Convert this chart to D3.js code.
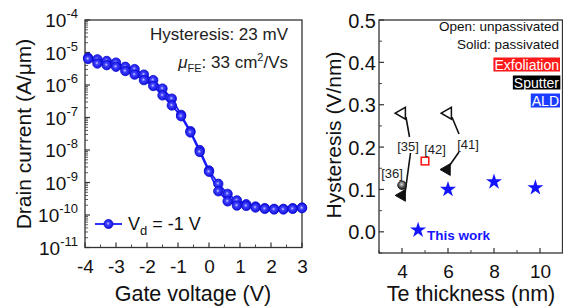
<!DOCTYPE html>
<html>
<head>
<meta charset="utf-8">
<script src="https://cdn.jsdelivr.net/npm/d3@7"></script>
<style>
  body { margin: 0; background: #fff; }
  svg { font-family: "Liberation Sans", Arial, sans-serif; }
</style>
</head>
<body>
<script>
// ---- left panel data: transfer curve (two sweeps) ----
var gateV = [-3.9, -3.6, -3.3, -3.0, -2.7, -2.4, -2.1, -1.8, -1.5, -1.2, -0.9, -0.6,
             -0.3, 0.0, 0.3, 0.6, 0.9, 1.2, 1.5, 1.8, 2.1, 2.4, 2.7, 3.0];
var logIdFwd = [-5.16, -5.21, -5.26, -5.31, -5.44, -5.51, -5.68, -5.85, -6.11, -6.42, -6.92, -7.42,
                -8.0, -8.63, -9.04, -9.35, -9.55, -9.67, -9.74, -9.79, -9.81, -9.81, -9.79, -9.77];
var logIdRev = [-5.2, -5.34, -5.39, -5.44, -5.57, -5.68, -5.85, -6.03, -6.32, -6.63, -6.96, -7.46,
                -8.06, -8.67, -9.27, -9.58, -9.71, -9.72, -9.77, -9.81, -9.83, -9.83, -9.81, -9.79];
var yTickExp = [-4, -5, -6, -7, -8, -9, -10, -11];
var xTicksLeft = [-4, -3, -2, -1, 0, 1, 2, 3];

// ---- right panel data: hysteresis vs Te thickness ----
var exfoliation = [{t: 5.0, h: 0.167}];
var sputterOpen = [{t: 4.0, h: 0.28}, {t: 6.0, h: 0.28}];
var sputterSolid = [{t: 4.0, h: 0.086}, {t: 5.95, h: 0.147}];
var sputterCircle = [{t: 4.0, h: 0.11}];
var aldStars = [{t: 4.7, h: 0.004}, {t: 6.0, h: 0.10}, {t: 8.0, h: 0.118}, {t: 9.8, h: 0.104}];
var xTicksRight = [4, 6, 8, 10];
var yTicksRight = [0.0, 0.1, 0.2, 0.3, 0.4, 0.5];

var W = 563, H = 307;
var svg = d3.select("body").append("svg").attr("width", W).attr("height", H);
var defs = svg.append("defs");

var g1 = defs.append("radialGradient").attr("id", "blueBall").attr("cx", "45%").attr("cy", "45%").attr("r", "60%");
g1.append("stop").attr("offset", "0%").attr("stop-color", "#d0d0ff");
g1.append("stop").attr("offset", "30%").attr("stop-color", "#4040ff");
g1.append("stop").attr("offset", "100%").attr("stop-color", "#0a0ad8");
var g2 = defs.append("radialGradient").attr("id", "greyBall").attr("cx", "45%").attr("cy", "40%").attr("r", "60%");
g2.append("stop").attr("offset", "0%").attr("stop-color", "#dddddd");
g2.append("stop").attr("offset", "50%").attr("stop-color", "#666");
g2.append("stop").attr("offset", "100%").attr("stop-color", "#111");

var blue = "#1a1aff";
var frameCol = "#333";

// =============== LEFT PANEL ===============
var x1 = d3.scaleLinear().domain([-4, 3]).range([85, 302]);
var y1 = d3.scaleLinear().domain([-11, -4]).range([247.5, 20]);

var left = svg.append("g");
left.append("rect").attr("x", 85).attr("y", 20).attr("width", 217).attr("height", 227.5)
  .attr("fill", "none").attr("stroke", frameCol).attr("stroke-width", 1.3);

// y ticks (log) major + minor, inward
yTickExp.forEach(function (e) {
  left.append("line").attr("x1", 85).attr("x2", 90).attr("y1", y1(e)).attr("y2", y1(e))
    .attr("stroke", frameCol).attr("stroke-width", 1.2);
  var t = left.append("text").attr("x", 78).attr("y", y1(e) + 7).attr("text-anchor", "end")
    .attr("font-size", 19).attr("fill", "#111");
  t.append("tspan").text("10");
  t.append("tspan").attr("dy", -9).attr("font-size", 13).text(String(e));
  if (e > -11) {
    for (var m = 2; m < 10; m++) {
      var yy = y1(e - 1 + Math.log10(m));
      left.append("line").attr("x1", 85).attr("x2", 88).attr("y1", yy).attr("y2", yy)
        .attr("stroke", frameCol).attr("stroke-width", 0.8);
    }
  }
});

// x ticks
var xAxis1 = d3.axisBottom(x1).tickValues(xTicksLeft).tickSize(0).tickFormat(d3.format("d"));
var xa1 = left.append("g").attr("transform", "translate(0,247.5)").call(xAxis1);
xa1.select(".domain").remove();
xa1.selectAll("text").attr("font-size", 19).attr("fill", "#111").attr("dy", 0).attr("y", 25)
  .text(function (d) { return String(d); });
d3.range(-4, 3.01, 0.5).forEach(function (v) {
  var major = Math.abs(v - Math.round(v)) < 1e-6;
  left.append("line").attr("x1", x1(v)).attr("x2", x1(v)).attr("y1", 247.5).attr("y2", 247.5 - (major ? 5 : 3))
    .attr("stroke", frameCol).attr("stroke-width", major ? 1.2 : 0.9);
});

// curves
var line1 = d3.line().x(function (d) { return x1(d[0]); }).y(function (d) { return y1(d[1]); });
[logIdFwd, logIdRev].forEach(function (arr) {
  var pts = gateV.map(function (v, i) { return [v, arr[i]]; });
  left.append("path").attr("d", line1(pts)).attr("fill", "none").attr("stroke", blue).attr("stroke-width", 1.8);
});
[logIdFwd, logIdRev].forEach(function (arr) {
  left.selectAll(null).data(gateV.map(function (v, i) { return [v, arr[i]]; })).enter()
    .append("circle").attr("cx", function (d) { return x1(d[0]); }).attr("cy", function (d) { return y1(d[1]); })
    .attr("r", 4.7).attr("fill", "url(#blueBall)").attr("stroke", "#0a0ad0").attr("stroke-width", 0.8);
});

// legend
left.append("line").attr("x1", 95).attr("x2", 122).attr("y1", 224).attr("y2", 224).attr("stroke", blue).attr("stroke-width", 1.8);
left.append("circle").attr("cx", 108.5).attr("cy", 224).attr("r", 4.5).attr("fill", "url(#blueBall)").attr("stroke", "#0a0ad0").attr("stroke-width", 0.8);
var lg = left.append("text").attr("x", 128).attr("y", 230).attr("font-size", 18).attr("fill", "#111");
lg.append("tspan").text("V");
lg.append("tspan").attr("dy", 5).attr("font-size", 13).text("d");
lg.append("tspan").attr("dy", -5).text(" = -1 V");

// annotations
left.append("text").attr("x", 288).attr("y", 40).attr("text-anchor", "end").attr("font-size", 17).attr("fill", "#222")
  .text("Hysteresis: 23 mV");
var mu = left.append("text").attr("x", 288).attr("y", 68).attr("text-anchor", "end").attr("font-size", 17).attr("fill", "#222");
mu.append("tspan").attr("font-style", "italic").text("\u03BC");
mu.append("tspan").attr("dy", 4).attr("font-size", 11).text("FE");
mu.append("tspan").attr("dy", -4).text(": 33 cm");
mu.append("tspan").attr("dy", -7).attr("font-size", 11).text("2");
mu.append("tspan").attr("dy", 7).text("/Vs");

// axis labels
left.append("text").attr("x", 193).attr("y", 301).attr("text-anchor", "middle").attr("font-size", 21.5).attr("fill", "#111")
  .text("Gate voltage (V)");
left.append("text").attr("transform", "translate(31,134) rotate(-90)").attr("text-anchor", "middle")
  .attr("font-size", 21).attr("fill", "#111").text("Drain current (A/\u03BCm)");

// =============== RIGHT PANEL ===============
var x2 = d3.scaleLinear().domain([3, 11]).range([379, 563]);
var y2 = d3.scaleLinear().domain([-0.05, 0.5]).range([253, 20]);
var right = svg.append("g");
right.append("rect").attr("x", 379).attr("y", 20).attr("width", 183.5).attr("height", 233)
  .attr("fill", "none").attr("stroke", frameCol).attr("stroke-width", 1.3);

var yAxis2 = d3.axisLeft(y2).tickValues(yTicksRight).tickSize(0).tickFormat(d3.format(".1f"));
var ya2 = right.append("g").attr("transform", "translate(379,0)").call(yAxis2);
ya2.select(".domain").remove();
ya2.selectAll("text").attr("font-size", 20).attr("fill", "#111").attr("x", -3).attr("dy", "0.35em");
d3.range(-0.05, 0.501, 0.05).forEach(function (v) {
  var major = Math.abs(v * 10 - Math.round(v * 10)) < 1e-6;
  right.append("line").attr("x1", 379).attr("x2", 379 + (major ? 5 : 3)).attr("y1", y2(v)).attr("y2", y2(v))
    .attr("stroke", frameCol).attr("stroke-width", major ? 1.2 : 0.9);
});

var xAxis2 = d3.axisBottom(x2).tickValues(xTicksRight).tickSize(0).tickFormat(d3.format("d"));
var xa2 = right.append("g").attr("transform", "translate(0,253)").call(xAxis2);
xa2.select(".domain").remove();
xa2.selectAll("text").attr("font-size", 19).attr("fill", "#111").attr("dy", 0).attr("y", 25);
d3.range(3, 11.01, 1).forEach(function (v) {
  var major = v % 2 === 0;
  right.append("line").attr("x1", x2(v)).attr("x2", x2(v)).attr("y1", 253).attr("y2", 253 - (major ? 5 : 3))
    .attr("stroke", frameCol).attr("stroke-width", major ? 1.2 : 0.9);
});

// leader lines
function seg(a, b) {
  right.append("line").attr("x1", a[0]).attr("y1", a[1]).attr("x2", b[0]).attr("y2", b[1])
    .attr("stroke", "#111").attr("stroke-width", 1.6);
}
seg([x2(4.0) + 4, y2(0.28) + 4], [409.5, 137]);
seg([410.5, 153], [x2(4.0) + 3, y2(0.086) - 2]);
seg([x2(6.0) + 4, y2(0.28) + 4], [459, 134]);
seg([459, 152], [x2(5.95) + 2, y2(0.147) - 3]);

var tri = d3.symbol().type(d3.symbolTriangle).size(60);
sputterOpen.forEach(function (d) {
  right.append("path").attr("d", tri()).attr("transform", "translate(" + x2(d.t) + "," + y2(d.h) + ") rotate(-90)")
    .attr("fill", "#fff").attr("stroke", "#111").attr("stroke-width", 1.5);
});
sputterSolid.forEach(function (d) {
  right.append("path").attr("d", tri()).attr("transform", "translate(" + x2(d.t) + "," + y2(d.h) + ") rotate(-90)")
    .attr("fill", "#111").attr("stroke", "#111").attr("stroke-width", 1);
});
sputterCircle.forEach(function (d) {
  right.append("circle").attr("cx", x2(d.t)).attr("cy", y2(d.h)).attr("r", 4.3)
    .attr("fill", "url(#greyBall)").attr("stroke", "#111").attr("stroke-width", 0.8);
});
exfoliation.forEach(function (d) {
  right.append("rect").attr("x", x2(d.t) - 3.8).attr("y", y2(d.h) - 3.8).attr("width", 7.6).attr("height", 7.6)
    .attr("fill", "#fff").attr("stroke", "#ff1010").attr("stroke-width", 1.5);
});
var star = d3.symbol().type(d3.symbolStar).size(80);
aldStars.forEach(function (d) {
  right.append("path").attr("d", star()).attr("transform", "translate(" + x2(d.t) + "," + y2(d.h) + ")")
    .attr("fill", "#1414ff");
});

// reference labels
function ref(txt, x, y) {
  right.append("text").attr("x", x).attr("y", y).attr("text-anchor", "middle").attr("font-size", 13)
    .attr("fill", "#222").text(txt);
}
ref("[35]", 408, 151);
ref("[42]", 435, 154);
ref("[41]", 468, 149);
ref("[36]", 392, 178);
right.append("text").attr("x", 427).attr("y", 240).attr("font-size", 13.5).attr("font-weight", "bold")
  .attr("fill", "#1414ff").text("This work");

// legend text
right.append("text").attr("x", 559).attr("y", 31).attr("text-anchor", "end").attr("font-size", 13.5).attr("fill", "#111")
  .text("Open: unpassivated");
right.append("text").attr("x", 559).attr("y", 48.5).attr("text-anchor", "end").attr("font-size", 13.5).attr("fill", "#111")
  .text("Solid: passivated");
[["Exfoliation", "#ff1a1a", 64.5], ["Sputter", "#000", 82.5], ["ALD", "#1a3cff", 100.5]].forEach(function (d) {
  var t = right.append("text").attr("x", 559).attr("y", d[2] + 5).attr("text-anchor", "end").attr("font-size", 14)
    .attr("fill", "#fff").text(d[0]);
  var bb = t.node().getBBox();
  right.insert("rect", function () { return t.node(); }).attr("x", bb.x - 1).attr("y", d[2] - 7)
    .attr("width", bb.width + 2).attr("height", 14).attr("fill", d[1]);
});

// axis labels
right.append("text").attr("x", 471).attr("y", 301).attr("text-anchor", "middle").attr("font-size", 21.5).attr("fill", "#111")
  .text("Te thickness (nm)");
right.append("text").attr("transform", "translate(341,135) rotate(-90)").attr("text-anchor", "middle")
  .attr("font-size", 21).attr("fill", "#111").text("Hysteresis (V/nm)");
</script>
</body>
</html>
